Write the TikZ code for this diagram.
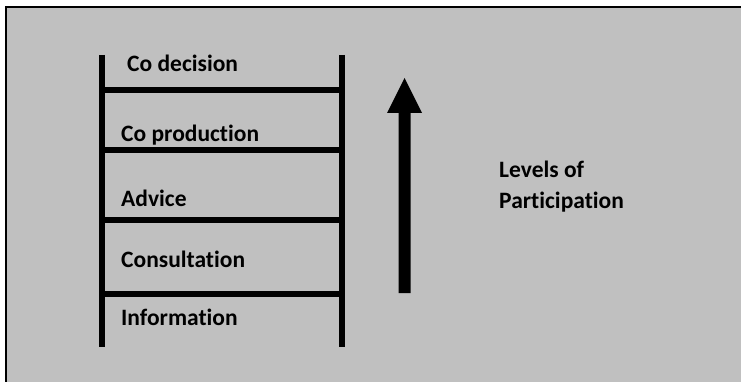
\documentclass[tikz,border=0pt]{standalone}
\usepackage{fontspec}
\setmainfont{Carlito}[Ligatures={NoCommon}]
\begin{document}
\begin{tikzpicture}[x=1pt,y=-1pt,
  rail/.style={line width=5.5pt},
  rung/.style={line width=5.5pt},
  lbl/.style={anchor=base west,inner sep=0pt,font=\fontsize{23.5}{30}\selectfont\bfseries},
]
\useasboundingbox (0,0) rectangle (741,382);
\fill[white] (0,0) rectangle (741,382);
% panel
\draw[fill={rgb,255:red,192;green,192;blue,192},line width=2pt] (6,7) rectangle (755,395);
% rails
\coordinate (lt) at (102,55);
\coordinate (lb) at (102,347);
\coordinate (rt) at (342,55);
\coordinate (rb) at (342,347);
\draw[rail] (lt) -- (lb);
\draw[rail] (rt) -- (rb);
% rungs
\foreach \y/\n in {90/a,150/b,220/c,294/d}{
  \coordinate (l\n) at (102,\y);
  \coordinate (r\n) at (342,\y);
  \draw[rung] (l\n) -- (r\n);
}
% labels
\node[lbl] (codec) at (127,72) {Co decision};
\node[lbl] (coprod) at (121,142) {Co production};
\node[lbl] (advice) at (121,207) {Advice};
\node[lbl] (consult) at (121,267) {Consultation};
\node[lbl] (info) at (121,325) {Information};
% arrow
\fill (398.5,293) -- (398.5,113) -- (387,113) -- (404.5,78) -- (422,113) -- (410.5,113) -- (410.5,293) -- cycle;
\node[lbl] (levels) at (499,178) {Levels of};
\node[lbl] (partic) at (499,208) {Participation};
\end{tikzpicture}
\end{document}
